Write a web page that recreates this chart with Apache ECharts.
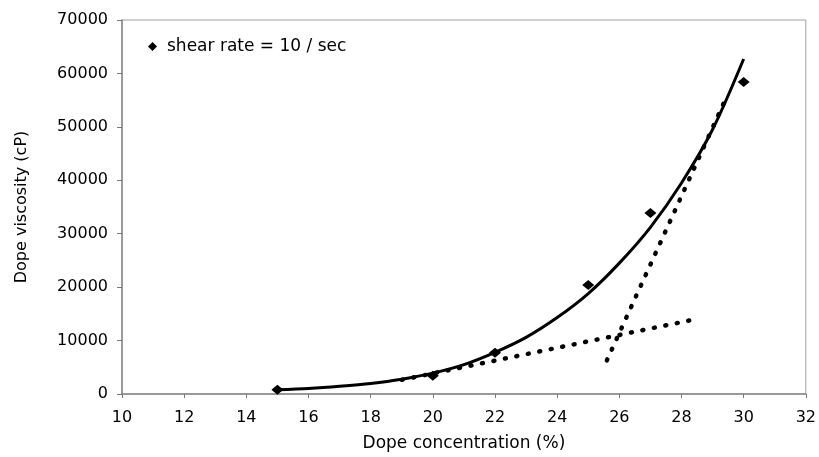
<!DOCTYPE html>
<html>
<head>
<meta charset="utf-8">
<title>Dope viscosity</title>
<script src="https://cdn.jsdelivr.net/npm/echarts@6/dist/echarts.min.js"></script>
<style>
  html, body { margin: 0; padding: 0; background: #fff; }
  #chart { width: 819px; height: 457px; }
</style>
</head>
<body>
<div id="chart"></div>
<script>
// measured points (shear rate = 10 / sec)
const pointX = [15, 20, 22, 25, 27, 30]
const pointY = [800, 3400, 7700, 20400, 33900, 58400]

// trend curve
const curveX = [15, 16, 17, 18, 19, 20, 21, 22, 23, 24, 25, 26, 27, 28, 29, 30]
const curveY = [800, 1050, 1450, 1970, 2760, 3900, 5500, 7800, 10600, 14300, 18800, 24500, 31200, 39500, 49500, 62700]

// the two dotted tangent lines
const lowLineX = [19, 28.5]
const lowLineY = [2650, 14050]
const steepLineX = [25.6, 29.45]
const steepLineY = [6300, 55600]

const xTicks = { min: 10, max: 32, interval: 2 }
const yTicks = { min: 0, max: 70000, interval: 10000 }

const legendName = 'shear rate = 10 / sec'
const font = 'DejaVu Sans'

function pairs(xs, ys) {
  return xs.map((x, i) => [x, ys[i]])
}

const chart = echarts.init(document.getElementById('chart'))

const dotted = {
  color: '#000',
  width: 4.5,
  type: [1, 10.7],
  cap: 'round'
}

chart.setOption({
  backgroundColor: '#fff',
  animation: false,
  grid: {
    left: 122,
    right: 12,
    top: 20,
    bottom: 57,
    show: true,
    borderColor: '#a0a0a0',
    borderWidth: 1
  },
  legend: {
    left: 143,
    top: 33,
    itemWidth: 9,
    itemHeight: 9,
    data: [{ name: legendName, icon: 'diamond' }],
    itemStyle: { color: '#000', opacity: 1 },
    textStyle: {
      fontFamily: font,
      fontSize: 17,
      color: '#000',
      padding: [0, 0, 0, 5]
    }
  },
  xAxis: {
    type: 'value',
    min: xTicks.min,
    max: xTicks.max,
    interval: xTicks.interval,
    name: 'Dope concentration (%)',
    nameLocation: 'middle',
    nameGap: 41,
    nameTextStyle: { fontFamily: font, fontSize: 17, color: '#000' },
    axisLine: { lineStyle: { color: '#888', width: 1.5 } },
    axisTick: { length: 4, lineStyle: { color: '#777' } },
    axisLabel: { fontFamily: font, fontSize: 16, color: '#000', margin: 16 },
    splitLine: { show: false }
  },
  yAxis: {
    type: 'value',
    min: yTicks.min,
    max: yTicks.max,
    interval: yTicks.interval,
    name: 'Dope viscosity (cP)',
    nameLocation: 'middle',
    nameGap: 92,
    nameTextStyle: { fontFamily: font, fontSize: 16, color: '#000' },
    axisLine: { show: true, lineStyle: { color: '#888', width: 1.5 } },
    axisTick: { show: true, length: 5, lineStyle: { color: '#777' } },
    axisLabel: {
      fontFamily: font,
      fontSize: 16,
      color: '#000',
      margin: 14,
      formatter: v => String(v)
    },
    splitLine: { show: false }
  },
  series: [
    {
      name: 'trend',
      type: 'line',
      data: pairs(curveX, curveY),
      smooth: 0.3,
      showSymbol: false,
      lineStyle: { color: '#000', width: 3 },
      z: 3
    },
    {
      name: 'low',
      type: 'line',
      data: pairs(lowLineX, lowLineY),
      showSymbol: false,
      lineStyle: dotted,
      z: 2
    },
    {
      name: 'steep',
      type: 'line',
      data: pairs(steepLineX, steepLineY),
      showSymbol: false,
      lineStyle: dotted,
      z: 2
    },
    {
      name: legendName,
      type: 'scatter',
      data: pairs(pointX, pointY),
      symbol: 'diamond',
      symbolSize: [12, 10],
      itemStyle: { color: '#000', opacity: 1 },
      z: 4
    }
  ]
})
</script>
</body>
</html>
